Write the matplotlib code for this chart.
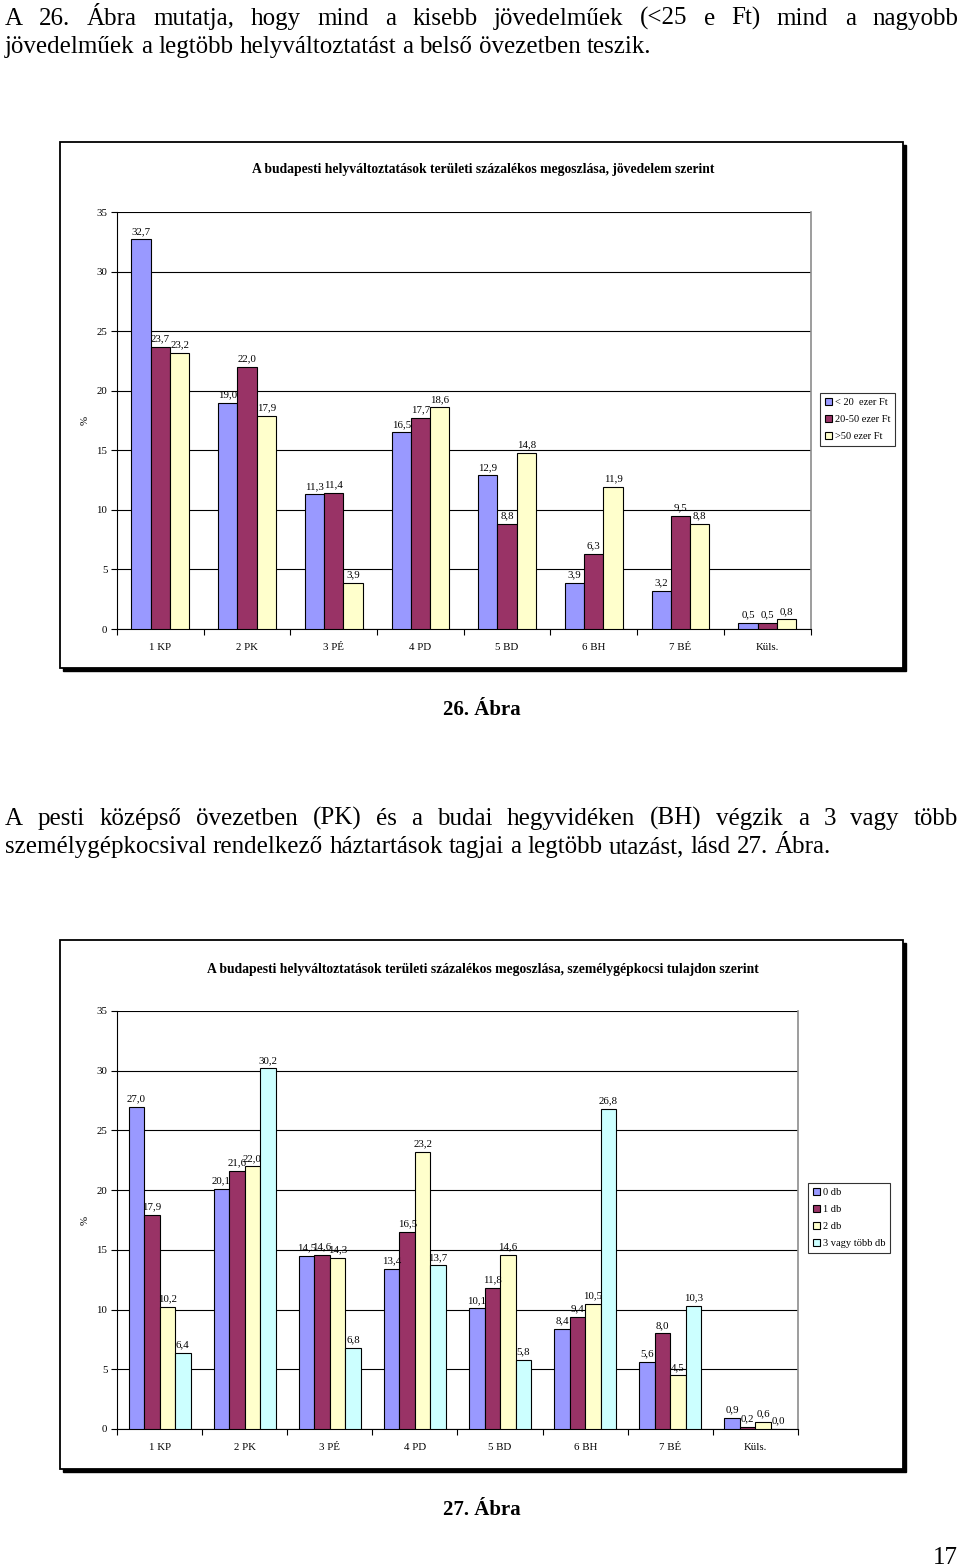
import matplotlib
matplotlib.use("Agg")
import matplotlib.pyplot as plt
from matplotlib.patches import Rectangle, Patch

# ---------------- data ----------------
categories = ["1 KP", "2 PK", "3 PÉ", "4 PD", "5 BD", "6 BH", "7 BÉ", "Küls."]

income_labels = ["< 20  ezer Ft", "20-50 ezer Ft", ">50 ezer Ft"]
income_lt20 = [32.7, 19.0, 11.3, 16.5, 12.9, 3.9, 3.2, 0.5]
income_20_50 = [23.7, 22.0, 11.4, 17.7, 8.8, 6.3, 9.5, 0.5]
income_gt50 = [23.2, 17.9, 3.9, 18.6, 14.8, 11.9, 8.8, 0.8]

car_labels = ["0 db", "1 db", "2 db", "3 vagy több db"]
car_0 = [27.0, 20.1, 14.5, 13.4, 10.1, 8.4, 5.6, 0.9]
car_1 = [17.9, 21.6, 14.6, 16.5, 11.8, 9.4, 8.0, 0.2]
car_2 = [10.2, 22.0, 14.3, 23.2, 14.6, 10.5, 4.5, 0.6]
car_3 = [6.4, 30.2, 6.8, 13.7, 5.8, 26.8, 10.3, 0.0]

yticks = [0, 5, 10, 15, 20, 25, 30, 35]

title1 = "A budapesti helyváltoztatások területi százalékos megoszlása, jövedelem szerint"
title2 = "A budapesti helyváltoztatások területi százalékos megoszlása, személygépkocsi tulajdon szerint"

para1 = ["A 26. Ábra mutatja, hogy mind a kisebb jövedelműek (<25 e Ft) mind a nagyobb",
         "jövedelműek a legtöbb helyváltoztatást a belső övezetben teszik."]
para2 = ["A pesti középső övezetben (PK) és a budai hegyvidéken (BH) végzik a 3 vagy több",
         "személygépkocsival rendelkező háztartások tagjai a legtöbb utazást, lásd 27. Ábra."]
caption1 = "26. Ábra"
caption2 = "27. Ábra"
page_no = "17"

colors3 = ["#9999FF", "#993366", "#FFFFCC"]
colors4 = ["#9999FF", "#993366", "#FFFFCC", "#CCFFFF"]

# ---------------- figure ----------------
W, H = 960, 1568
FONT = "Liberation Serif"
plt.rcParams["font.family"] = [FONT, "DejaVu Serif"]
fig = plt.figure(figsize=(W / 100, H / 100), dpi=100)
fig.patch.set_facecolor("white")

CHART_FS = 7.8


def fx(x):
    return x / W


def fy(y):
    return 1 - y / H


def frame(x0, y0, x1, y1):
    fig.patches.append(Rectangle((fx(x0 + 3), fy(y1 + 3)), fx(x1 - x0), (y1 - y0) / H,
                                 transform=fig.transFigure, facecolor="black",
                                 edgecolor="black", zorder=-2))
    fig.patches.append(Rectangle((fx(x0), fy(y1)), fx(x1 - x0), (y1 - y0) / H,
                                 transform=fig.transFigure, facecolor="white",
                                 edgecolor="black", linewidth=1.3, zorder=-1))


def make_chart(left, right, top, bottom, series, colors, labels, title, title_y,
               leg_x, leg_y):
    ax = fig.add_axes([fx(left), fy(bottom), fx(right - left), (bottom - top) / H])
    ax.set_zorder(2)
    ax.set_facecolor("none")
    n = len(series)
    width = 1 / (n + 1.5)
    xs = list(range(len(categories)))
    handles = []
    for k, (vals, col, lab) in enumerate(zip(series, colors, labels)):
        off = (k - (n - 1) / 2) * width
        pos = [x + off for x in xs]
        bars = ax.bar(pos, vals, width=width, color=col, edgecolor="black",
                      linewidth=0.8, zorder=3)
        for b, v in zip(bars, vals):
            ax.annotate(f"{v:.1f}".replace(".", ","),
                        (b.get_x() + b.get_width() / 2, b.get_height()),
                        xytext=(0, 2.5), textcoords="offset points",
                        ha="center", va="bottom", fontsize=CHART_FS, zorder=4)
        handles.append(Patch(facecolor=col, edgecolor="black", linewidth=0.8, label=lab))
    ax.set_xlim(-0.5, len(categories) - 0.5)
    ax.set_ylim(0, 35)
    ax.set_yticks(yticks)
    ax.set_yticklabels([str(t) for t in yticks], fontsize=CHART_FS)
    ax.set_xticks(xs)
    ax.set_xticklabels(categories, fontsize=CHART_FS)
    ax.set_xticks([x - 0.5 for x in range(len(categories) + 1)], minor=True)
    ax.tick_params(axis="x", which="major", length=0, pad=10)
    ax.tick_params(axis="x", which="minor", length=4, width=0.8, direction="out")
    ax.tick_params(axis="y", length=4, width=0.8, pad=3)
    ax.grid(axis="y", color="black", linewidth=0.8, zorder=1)
    ax.set_axisbelow(True)
    ax.spines["top"].set_visible(False)
    ax.spines["right"].set_color("#8c8c8c")
    ax.spines["right"].set_linewidth(1.2)
    ax.spines["left"].set_linewidth(0.8)
    ax.spines["bottom"].set_linewidth(0.8)
    fig.text(fx(85), fy((top + bottom) / 2), "%", rotation=90, fontsize=CHART_FS,
             ha="center", va="center")
    fig.text(fx(483), fy(title_y), title, fontsize=9.8, fontweight="bold",
             ha="center", va="center")
    leg = fig.legend(handles=handles, loc="upper left",
                     bbox_to_anchor=(fx(leg_x), fy(leg_y)), fontsize=7.5,
                     frameon=True, fancybox=False, edgecolor="black",
                     handlelength=0.7, handleheight=0.7, handletextpad=0.3,
                     labelspacing=0.75, borderpad=0.45, borderaxespad=0)
    leg.get_frame().set_linewidth(0.8)
    leg.set_zorder(3)
    return ax


frame(60, 142, 903, 668)
make_chart(117, 810.5, 212, 629, [income_lt20, income_20_50, income_gt50],
           colors3, income_labels, title1, 170, 820, 393)

frame(60, 940, 903, 1469)
make_chart(117, 798, 1011, 1429, [car_0, car_1, car_2, car_3],
           colors4, car_labels, title2, 969, 808, 1183)

# ---------------- body text ----------------
TEXT_SIZE = 18
renderer = fig.canvas.get_renderer()


def text_line(y, line, x0=5, x1=958, justify=True):
    words = line.split(" ")
    objs = [fig.text(fx(x0), fy(y), w, fontsize=TEXT_SIZE, ha="left", va="baseline")
            for w in words]
    widths = [o.get_window_extent(renderer).width for o in objs]
    space = objs[0].get_fontsize() * 100 / 72 * 0.25
    if justify and len(words) > 1:
        gap = (x1 - x0 - sum(widths)) / (len(words) - 1)
    else:
        gap = space
    x = x0
    for o, w in zip(objs, widths):
        o.set_position((fx(x), fy(y)))
        x += w + gap


text_line(25, para1[0], justify=True)
text_line(53, para1[1], justify=False)
text_line(825, para2[0], justify=True)
text_line(853, para2[1], justify=False)

fig.text(fx(482), fy(710), caption1, fontsize=15, fontweight="bold", ha="center", va="center")
fig.text(fx(482), fy(1510), caption2, fontsize=15, fontweight="bold", ha="center", va="center")
fig.text(fx(958), fy(1564), page_no, fontsize=18, ha="right", va="baseline")

fig.savefig("out.png", dpi=100, facecolor="white")
